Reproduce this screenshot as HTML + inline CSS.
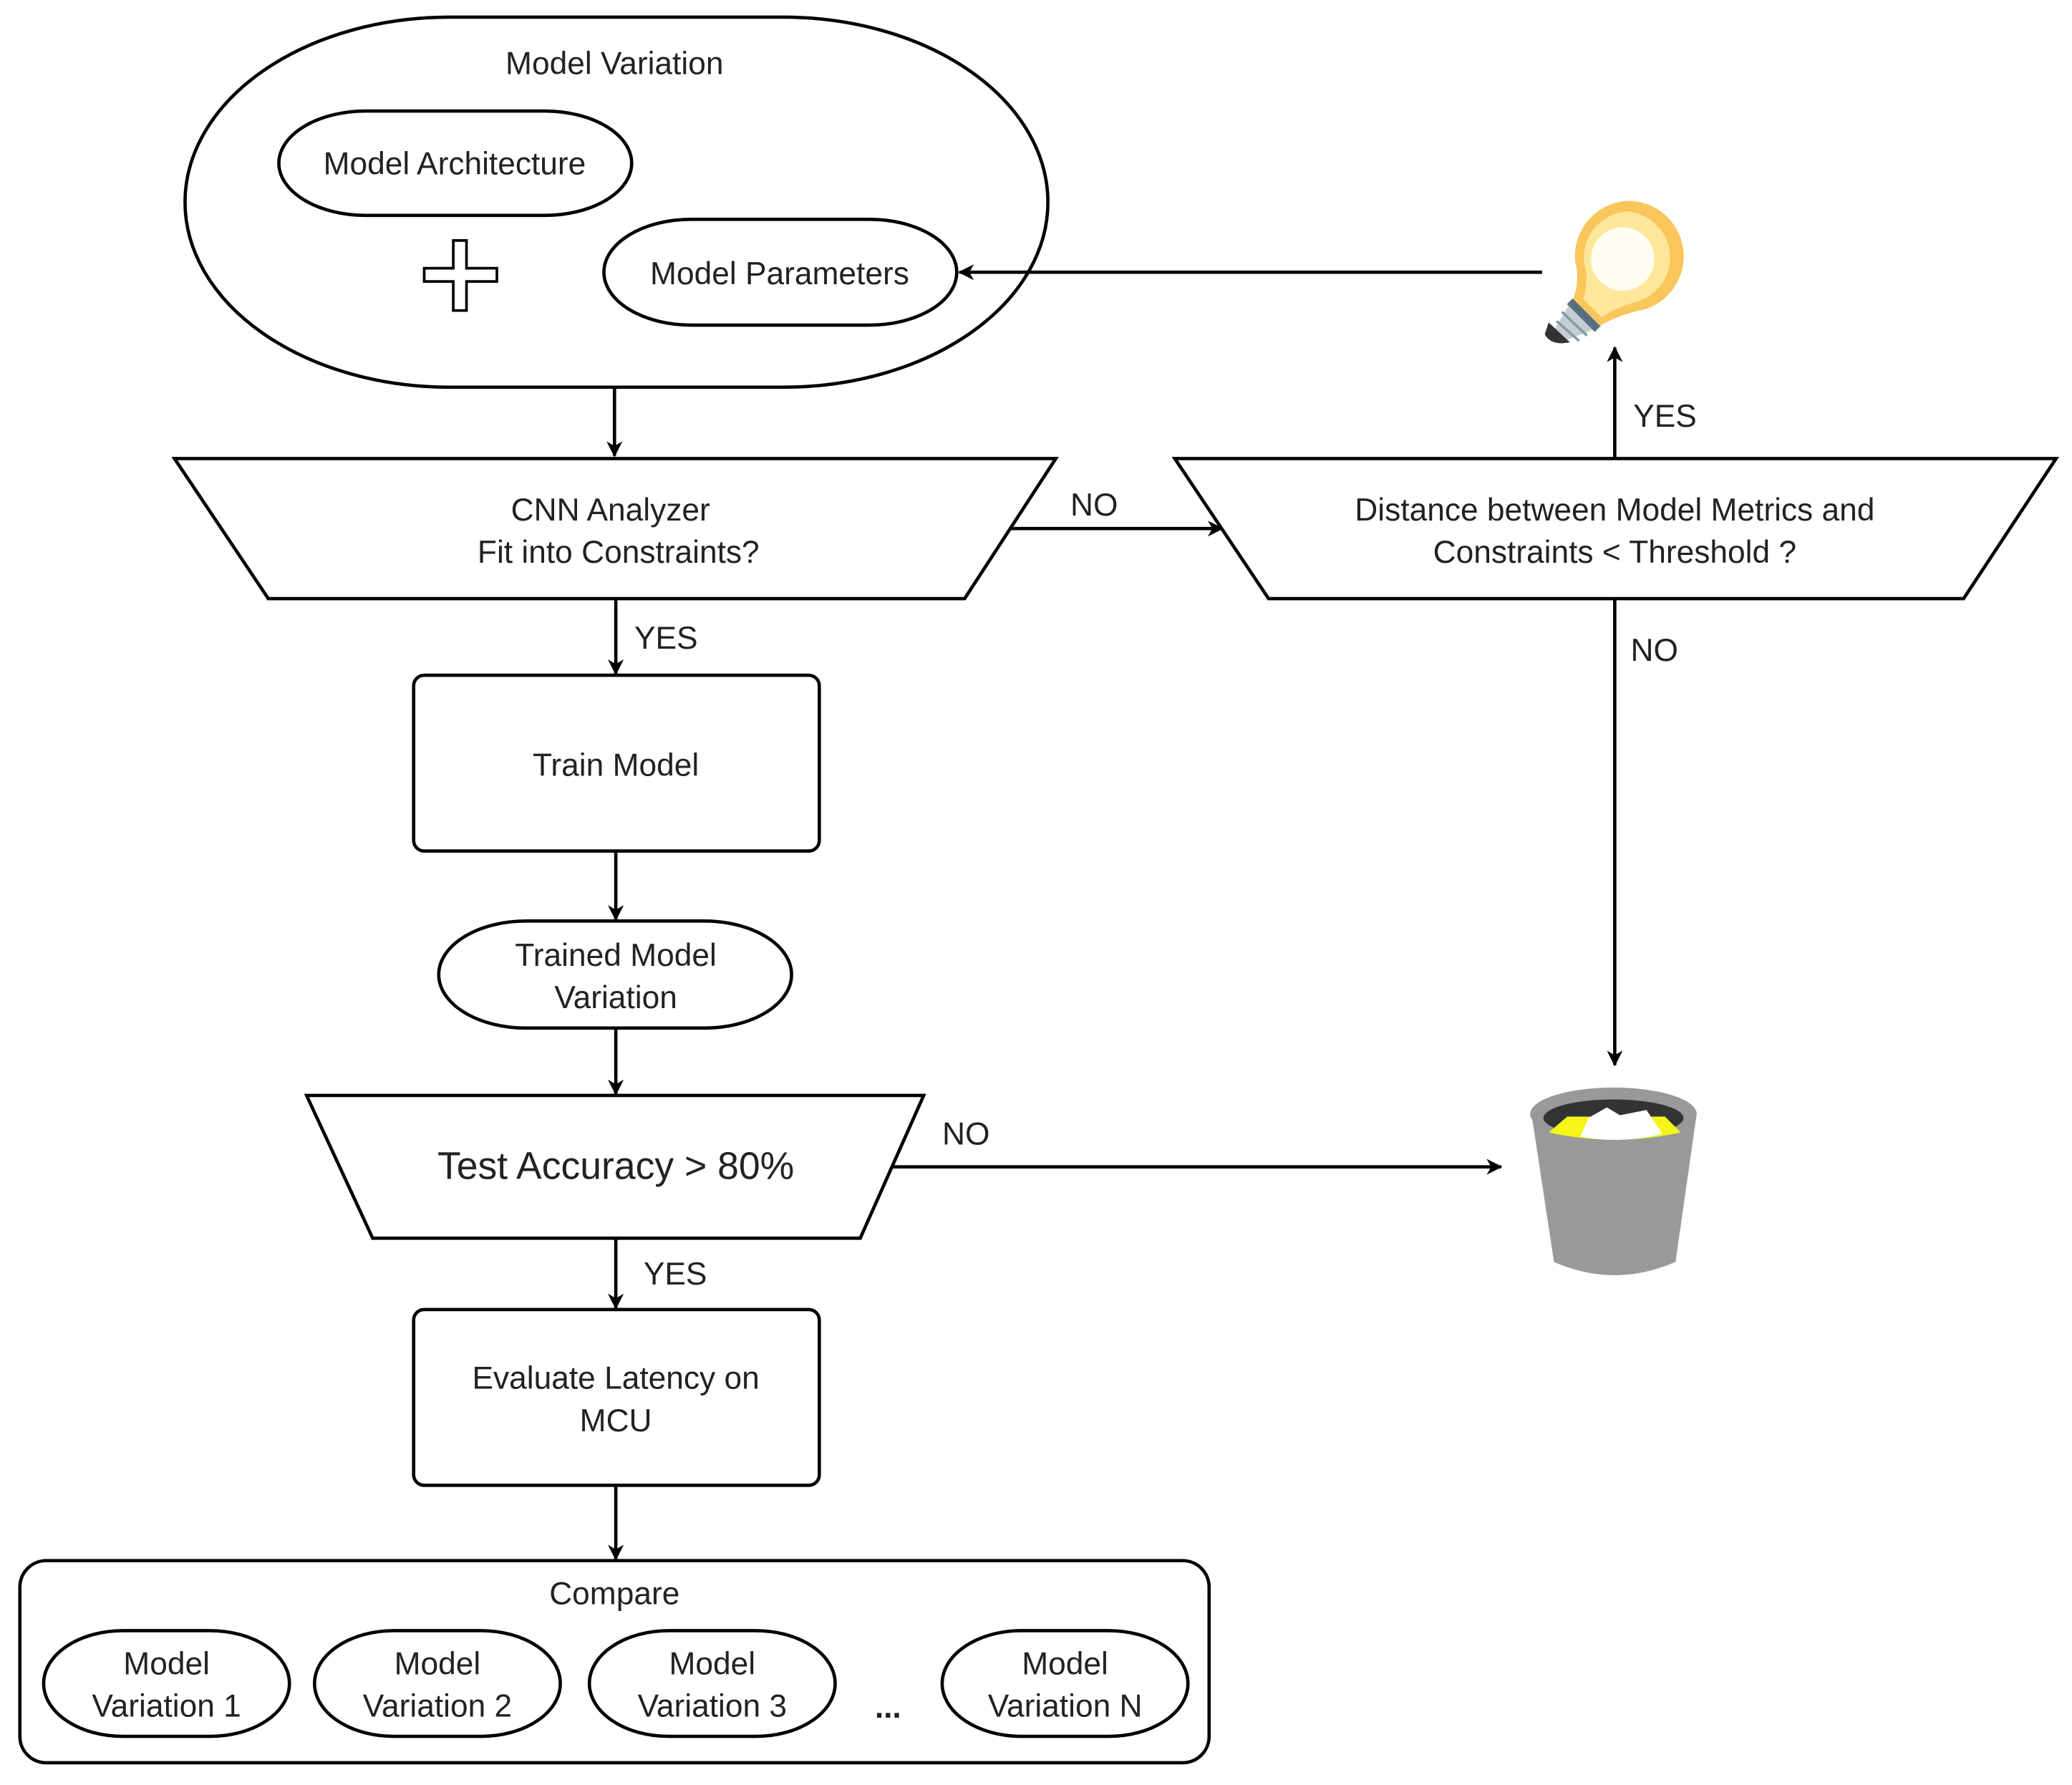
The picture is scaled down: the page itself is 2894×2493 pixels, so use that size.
<!DOCTYPE html>
<html><head><meta charset="utf-8"><style>html,body{margin:0;padding:0;background:#fff}svg{display:block}text{font-family:"Liberation Sans",Arial,sans-serif}</style></head>
<body>
<svg width="2894" height="2493" viewBox="0 0 1568 1350.8" xmlns="http://www.w3.org/2000/svg" font-size="24" fill="#222">
<defs><marker id="a" markerWidth="12" markerHeight="12" refX="11" refY="6" orient="auto" markerUnits="userSpaceOnUse"><path d="M0,0 L12,6 L0,12 L3.5,6 Z" fill="#000"/></marker></defs>
<g fill="none" stroke="#000" stroke-width="2.5">
<rect x="140" y="13" width="653" height="280" rx="200" ry="140" fill="#fff"/>
<rect x="211" y="84" width="267" height="79" rx="66" ry="39.5"/>
<rect x="457" y="166" width="267" height="80" rx="66" ry="40"/>
<path d="M343,182 h10 v21 h23 v10 h-23 v22 h-10 v-22 h-22 v-10 h22 z" stroke-width="2"/>
<line x1="1167" y1="206" x2="726" y2="206" marker-end="url(#a)"/>
<line x1="465" y1="293" x2="465" y2="345" marker-end="url(#a)"/>
<polygon points="132,347 799,347 730,453 203,453"/>
<polygon points="889,347 1556,347 1486,453 960,453"/>
<line x1="764" y1="400" x2="925" y2="400" marker-end="url(#a)"/>
<line x1="1222" y1="347" x2="1222" y2="263" marker-end="url(#a)"/>
<line x1="1222" y1="453" x2="1222" y2="806" marker-end="url(#a)"/>
<line x1="466" y1="453" x2="466" y2="510" marker-end="url(#a)"/>
<rect x="313" y="511" width="307" height="133" rx="8"/>
<line x1="466" y1="644" x2="466" y2="696" marker-end="url(#a)"/>
<rect x="332" y="697" width="267" height="81" rx="66" ry="40.5"/>
<line x1="466" y1="778" x2="466" y2="828" marker-end="url(#a)"/>
<polygon points="232,829 699,829 651,937 282,937"/>
<line x1="676" y1="883" x2="1136" y2="883" marker-end="url(#a)"/>
<line x1="466" y1="937" x2="466" y2="990" marker-end="url(#a)"/>
<rect x="313" y="991" width="307" height="133" rx="8"/>
<line x1="466" y1="1124" x2="466" y2="1180" marker-end="url(#a)"/>
<rect x="15" y="1181" width="900" height="153" rx="20"/>
<rect x="33" y="1234" width="186" height="80" rx="60" ry="40"/>
<rect x="238" y="1234" width="186" height="80" rx="60" ry="40"/>
<rect x="446" y="1234" width="186" height="80" rx="60" ry="40"/>
<rect x="713" y="1234" width="186" height="80" rx="60" ry="40"/>
</g>
<!-- bulb -->
<g>
<path d="M1232,152 A42,42 0 0 1 1245,234 Q1225,238 1210,247 L1190,228 Q1196,212 1192,198 A42,42 0 0 1 1232,152 Z" fill="#f8c65a"/>
<path d="M1232,160 A35,35 0 0 1 1240,228 Q1224,232 1212,240 L1198,226 Q1203,212 1199,200 A35,35 0 0 1 1232,160 Z" fill="#fde79a"/>
<circle cx="1228" cy="196" r="24" fill="#fffdf2"/>
<path d="M1190,226 L1212,247 L1184,258 L1176,250 Z" fill="#c4ced5"/>
<path d="M1188,228 L1209,249" stroke="#5a6f7e" stroke-width="6"/>
<path d="M1182,236 L1201,254 M1178,243 L1195,258" stroke="#8a9aa5" stroke-width="2"/>
<path d="M1172,244 L1188,259 Q1174,262 1169,253 Z" fill="#333"/>
</g>
<!-- trash -->
<g>
<path d="M1159,843 L1284,843 L1268,955 Q1222,975 1176,955 Z" fill="#999"/>
<ellipse cx="1221" cy="843" rx="63" ry="20" fill="#999"/>
<ellipse cx="1221" cy="846" rx="53" ry="14" fill="#333"/>
<path d="M1172,857 L1186,845 L1260,845 L1272,857 Q1222,868 1172,857 Z" fill="#f5f51a"/>
<path d="M1196,860 L1202,846 L1216,838 L1226,844 L1246,840 L1258,858 Q1226,866 1196,860 Z" fill="#fff"/>
</g>
<g text-anchor="middle">
<text x="465" y="56">Model Variation</text>
<text x="344" y="132">Model Architecture</text>
<text x="590" y="215">Model Parameters</text>
<text x="462" y="394">CNN Analyzer</text>
<text x="468" y="426">Fit into Constraints?</text>
<text x="1222" y="394">Distance between Model Metrics and</text>
<text x="1222" y="426">Constraints &lt; Threshold ?</text>
<text x="466" y="587">Train Model</text>
<text x="466" y="731">Trained Model</text>
<text x="466" y="763">Variation</text>
<text x="466" y="892" font-size="29">Test Accuracy &gt; 80%</text>
<text x="466" y="1051">Evaluate Latency on</text>
<text x="466" y="1083">MCU</text>
<text x="465" y="1214">Compare</text>
<text x="126" y="1267">Model</text><text x="126" y="1299">Variation 1</text>
<text x="331" y="1267">Model</text><text x="331" y="1299">Variation 2</text>
<text x="539" y="1267">Model</text><text x="539" y="1299">Variation 3</text>
<text x="806" y="1267">Model</text><text x="806" y="1299">Variation N</text>
<text x="672" y="1300" font-weight="bold">...</text>
</g>
<text x="810" y="390">NO</text>
<text x="1236" y="323">YES</text>
<text x="1234" y="500">NO</text>
<text x="480" y="491">YES</text>
<text x="713" y="866">NO</text>
<text x="487" y="972">YES</text>
</svg>
</body></html>
